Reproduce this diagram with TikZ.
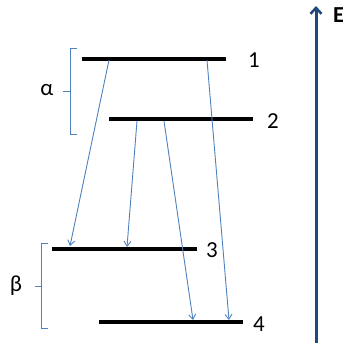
\documentclass[tikz,border=0pt]{standalone}
\usepackage{fontspec}
\setmainfont{Carlito}
\usetikzlibrary{arrows.meta}
\definecolor{arrblue}{RGB}{79,129,189}
\definecolor{axblue}{RGB}{31,73,125}
\begin{document}
\begin{tikzpicture}[x=1bp,y=-1bp,
  level/.style={line width=4bp,black},
  trans/.style={arrblue,line width=0.9bp,-{Straight Barb[length=5bp,width=7bp]}},
  brace/.style={arrblue,line width=1bp},
  lbl/.style={font=\fontsize{23}{25}\selectfont,inner sep=0pt}]
\useasboundingbox (0,0) rectangle (343,345);
% energy levels
\coordinate (l1a) at (82,58.5); \coordinate (l1b) at (226,58.5);
\coordinate (l2a) at (109,119); \coordinate (l2b) at (253,119);
\coordinate (l3a) at (52,249); \coordinate (l3b) at (197,249);
\coordinate (l4a) at (99,322); \coordinate (l4b) at (243,322);
\draw[level] (l1a) -- (l1b);
\draw[level] (l2a) -- (l2b);
\draw[level] (l3a) -- (l3b);
\draw[level] (l4a) -- (l4b);
\node[lbl] (n1) at (254,60) {1};
\node[lbl] (n2) at (273,121) {2};
\node[lbl] (n3) at (212,250) {3};
\node[lbl] (n4) at (259,324) {4};
% transitions
\coordinate (s1) at (109,60); \coordinate (e1) at (70,246);
\coordinate (s2) at (207,60); \coordinate (e2) at (229,320);
\coordinate (s3) at (137,121); \coordinate (e3) at (127,247);
\coordinate (s4) at (164,121); \coordinate (e4) at (193,320);
\draw[trans] (s1) -- (e1);
\draw[trans] (s2) -- (e2);
\draw[trans] (s3) -- (e3);
\draw[trans] (s4) -- (e4);
% braces
\draw[brace] (77,48) -- (70,48) -- (70,134) -- (77,134);
\coordinate (am) at (70,91); \coordinate (at) at (63,91);
\draw[brace] (am) -- (at);
\node[lbl] (alpha) at (47,90) {α};
\draw[brace] (48,243) -- (41,243) -- (41,328) -- (48,328);
\coordinate (bm) at (41,286); \coordinate (bt) at (35,286);
\draw[brace] (bm) -- (bt);
\node[lbl] (beta) at (16,286) {β};
% energy axis
\coordinate (ax0) at (316,343); \coordinate (ax1) at (316,6);
\draw[axblue,line width=3bp,-{Straight Barb[length=6bp,width=11bp,line width=2.5bp]}] (ax0) -- (ax1);
\node[lbl,font=\fontsize{23}{25}\selectfont\bfseries,anchor=west] (E) at (333,15) {E};
\end{tikzpicture}
\end{document}
